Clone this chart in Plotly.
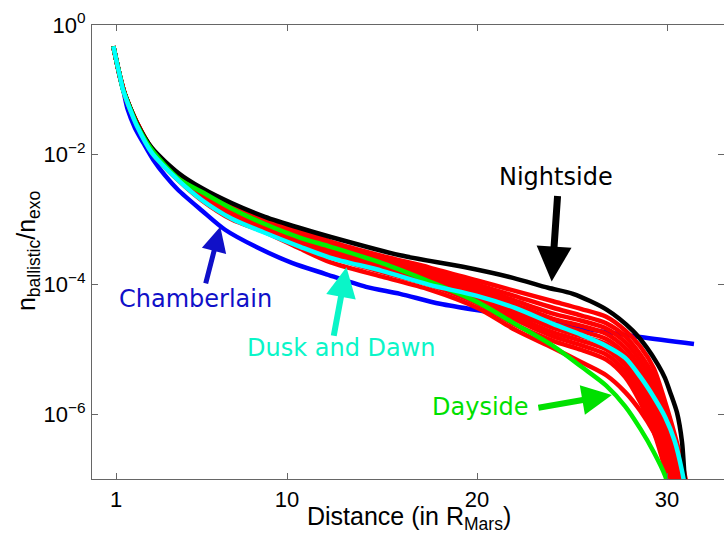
import plotly.graph_objects as go

# ---------------- data: log10(n_ballistic / n_exo) versus distance (R_Mars) ----------------
CHAMB_X = [0.86, 1.05, 1.21, 1.38, 1.62, 2.0, 2.44, 2.96, 3.58, 4.26, 5.53, 6.74, 8.47, 10.26,
           12.0, 14.16, 15.95, 18.05, 21.2, 25.05, 28.58, 31.42]
CHAMB_LOG = [-0.329, -0.596, -0.812, -1.0, -1.306, -1.588, -1.819, -2.077, -2.319, -2.54, -2.864,
             -3.157, -3.435, -3.667, -3.836, -4.037, -4.145, -4.299, -4.454, -4.654, -4.809, -4.917]

NIGHT_X = [0.86, 1.05, 1.21, 1.35, 1.51, 1.79, 2.09, 2.88, 4.30, 5.53, 7.11, 8.84, 10.68, 12.26,
           15.95, 19.26, 21.89, 23.74, 25.05, 26.84, 28.21, 28.95, 29.53, 29.89, 30.16, 30.53,
           30.79, 30.89, 30.98]
NIGHT_LOG = [-0.329, -0.585, -0.79, -0.97, -1.10, -1.306, -1.511, -1.892, -2.285, -2.517, -2.749,
             -2.957, -3.13, -3.265, -3.551, -3.728, -3.898, -4.052, -4.145, -4.392, -4.716, -4.978,
             -5.241, -5.441, -5.657, -5.981, -6.429, -6.815, -7.25]

DAY_X = [0.86, 1.05, 1.21, 1.35, 1.51, 1.79, 2.09, 2.88, 4.30, 5.5, 7.1, 8.8, 10.7, 12.3, 15.0,
         17.5, 20.0, 22.0, 24.0, 25.5, 26.8, 27.8, 28.6, 29.3, 29.9, 30.4]
DAY_LOG = [-0.329, -0.587, -0.793, -0.975, -1.11, -1.32, -1.53, -1.923, -2.37, -2.571, -2.833,
           -3.065, -3.281, -3.42, -3.671, -3.955, -4.269, -4.608, -4.948, -5.27, -5.56, -5.88,
           -6.228, -6.583, -6.95, -7.5]

DUSK_X = [0.86, 1.05, 1.21, 1.35, 1.51, 1.79, 2.09, 2.88, 4.3, 5.5, 7.1, 8.8, 10.7, 12.3, 15.0,
          17.5, 20.0, 22.0, 24.0, 25.5, 26.8, 27.8, 28.6, 29.3, 29.9, 30.4, 30.8, 31.1]
DUSK_LOG = [-0.329, -0.59, -0.795, -0.98, -1.12, -1.34, -1.55, -1.969, -2.401, -2.694, -2.988,
            -3.20, -3.42, -3.59, -3.79, -4.006, -4.176, -4.361, -4.608, -4.778, -4.948, -5.133,
            -5.426, -5.735, -6.043, -6.41, -6.89, -7.4]

# intermediate local-time profiles (red)
RED_X = [0.86, 1.21, 1.51, 2.09, 2.88, 4.3, 5.5, 7.1, 8.8, 10.7, 12.3, 15.0, 17.5, 20.0, 22.0,
         24.0, 25.5, 26.8, 27.8, 28.6, 29.3, 29.9, 30.4, 30.8, 31.2]
RED_1 = [-0.329, -0.793, -1.102, -1.495, -1.900, -2.30, -2.53, -2.77, -2.98, -3.17, -3.34, -3.56,
         -3.74, -3.94, -4.10, -4.26, -4.38, -4.50, -4.71, -4.96, -5.29, -5.81, -6.31, -6.76, -7.30]
RED_2 = [-0.329, -0.793, -1.104, -1.499, -1.907, -2.32, -2.55, -2.80, -3.01, -3.20, -3.37, -3.60,
         -3.79, -4.00, -4.18, -4.36, -4.48, -4.60, -4.80, -5.08, -5.42, -5.90, -6.40, -6.90, -7.50]
RED_3 = [-0.329, -0.794, -1.106, -1.503, -1.914, -2.33, -2.57, -2.83, -3.04, -3.23, -3.40, -3.63,
         -3.83, -4.05, -4.25, -4.45, -4.56, -4.68, -4.89, -5.18, -5.53, -6.02, -6.55, -7.10, -7.70]
RED_4 = [-0.329, -0.794, -1.108, -1.507, -1.921, -2.34, -2.59, -2.86, -3.07, -3.26, -3.43, -3.66,
         -3.86, -4.09, -4.31, -4.53, -4.64, -4.76, -4.98, -5.28, -5.65, -6.14, -6.68, -7.25, -7.90]
RED_5 = [-0.329, -0.794, -1.110, -1.511, -1.928, -2.35, -2.61, -2.88, -3.09, -3.29, -3.46, -3.69,
         -3.89, -4.13, -4.37, -4.60, -4.72, -4.84, -5.07, -5.38, -5.77, -6.27, -6.82, -7.40, -8.00]
RED_6 = [-0.329, -0.795, -1.112, -1.515, -1.935, -2.36, -2.63, -2.90, -3.11, -3.32, -3.49, -3.72,
         -3.92, -4.17, -4.43, -4.67, -4.80, -4.92, -5.16, -5.49, -5.90, -6.42, -7.00, -7.60, -8.20]
RED_7 = [-0.329, -0.795, -1.114, -1.519, -1.942, -2.37, -2.64, -2.92, -3.13, -3.35, -3.52, -3.75,
         -3.95, -4.21, -4.49, -4.74, -4.87, -5.00, -5.25, -5.60, -6.02, -6.56, -7.15, -7.80, -8.40]
RED_8 = [-0.329, -0.795, -1.116, -1.523, -1.949, -2.38, -2.66, -2.94, -3.15, -3.37, -3.55, -3.78,
         -3.98, -4.25, -4.54, -4.80, -4.94, -5.08, -5.34, -5.71, -6.14, -6.70, -7.30, -8.00, -8.60]
RED_9 = [-0.329, -0.796, -1.118, -1.527, -1.956, -2.39, -2.68, -2.96, -3.17, -3.40, -3.58, -3.81,
         -4.01, -4.29, -4.62, -4.87, -5.01, -5.16, -5.43, -5.82, -6.27, -6.85, -7.50, -8.20, -8.80]
RED_10 = [-0.329, -0.796, -1.120, -1.531, -1.963, -2.40, -2.70, -3.00, -3.19, -3.45, -3.66, -3.88,
          -4.08, -4.36, -4.70, -4.98, -5.20, -5.40, -5.66, -5.95, -6.28, -6.66, -7.00, -7.40, -7.80]
RED_SERIES = [RED_1, RED_2, RED_3, RED_4, RED_5, RED_6, RED_7, RED_8, RED_9, RED_10]

X_TICKS = [1, 10, 20, 30]
Y_TICKS = [1, 1e-2, 1e-4, 1e-6]
Y_TICK_TEXT = ["10<sup>0</sup>", "10<sup>\u22122</sup>", "10<sup>\u22124</sup>", "10<sup>\u22126</sup>"]


def lin(logs):
    return [10 ** v for v in logs]


fig = go.Figure()
LW = 4.5


def add(xs, logs, color):
    fig.add_trace(go.Scatter(x=xs, y=lin(logs), mode="lines",
                             line=dict(color=color, width=LW, shape="spline", smoothing=0.8),
                             hoverinfo="skip", showlegend=False))


add(CHAMB_X, CHAMB_LOG, "#0000ff")
for r in RED_SERIES:
    add(RED_X, r, "#ff0000")
add(NIGHT_X, NIGHT_LOG, "#000000")
add(DAY_X, DAY_LOG, "#00ee00")
add(DUSK_X, DUSK_LOG, "#00ffff")

TXT = dict(family="DejaVu Sans", size=24)
BLUE_T = "#1010c8"
AQUA_T = "#0af5c8"
GREEN_T = "#00e000"

ann = []
# labels
for text, px, py, col in [("Nightside", 0.734, 0.665, "black"),
                          ("Chamberlain", 0.1638, 0.397, BLUE_T),
                          ("Dusk and Dawn", 0.394, 0.289, AQUA_T),
                          ("Dayside", 0.6147, 0.159, GREEN_T)]:
    ann.append(dict(text=text, x=px, y=py, xref="paper", yref="paper", xanchor="center",
                    yanchor="middle", showarrow=False, font=dict(TXT, color=col)))
# arrows (tip in data coords, y as log10)
ann.append(dict(text="", x=23.93, y=-3.955, xref="x", yref="y", ax=6, ay=-87,
                showarrow=True, arrowhead=2, arrowsize=1, arrowwidth=7, arrowcolor="black"))
ann.append(dict(text="", x=6.49, y=-3.111, xref="x", yref="y", ax=-15, ay=58,
                showarrow=True, arrowhead=2, arrowsize=1, arrowwidth=5, arrowcolor=BLUE_T))
ann.append(dict(text="", x=13.13, y=-3.736, xref="x", yref="y", ax=-13, ay=70,
                showarrow=True, arrowhead=2, arrowsize=1, arrowwidth=6, arrowcolor=AQUA_T))
ann.append(dict(text="", x=27.1, y=-5.704, xref="x", yref="y", ax=-75, ay=13,
                showarrow=True, arrowhead=2, arrowsize=1, arrowwidth=6, arrowcolor=GREEN_T))
# axis titles
AX = dict(family="Liberation Sans", size=25, color="black")
ann.append(dict(text="Distance (in R<sub>Mars</sub>)", x=0.5016, y=-0.046, xref="paper", yref="paper",
                xanchor="center", yanchor="top", showarrow=False, font=AX))
ann.append(dict(text="n<sub>ballistic</sub>/n<sub>exo</sub>", x=-0.1013, y=0.502, xref="paper",
                yref="paper", xanchor="center", yanchor="middle", textangle=-90,
                showarrow=False, font=AX))

AXCOL = "#666666"
TICKFONT = dict(family="Liberation Sans", size=22, color="black")
fig.update_layout(
    width=724, height=533,
    margin=dict(l=92, r=0, t=25, b=54, autoexpand=False),
    paper_bgcolor="white", plot_bgcolor="white",
    annotations=ann,
    xaxis=dict(range=[-0.263, 33.0], tickvals=X_TICKS, ticktext=[str(v) for v in X_TICKS],
               showgrid=False, zeroline=False, showline=True, mirror="ticks",
               linecolor=AXCOL, linewidth=1, ticks="inside", ticklen=6, tickcolor=AXCOL,
               tickfont=TICKFONT, ticklabelstandoff=1),
    yaxis=dict(type="log", range=[-7, 0], tickvals=Y_TICKS, ticktext=Y_TICK_TEXT,
               showgrid=False, zeroline=False, showline=True, mirror="ticks",
               linecolor=AXCOL, linewidth=1, ticks="inside", ticklen=6, tickcolor=AXCOL,
               tickfont=TICKFONT, ticklabelstandoff=1),
)

fig.write_html("out.html")
